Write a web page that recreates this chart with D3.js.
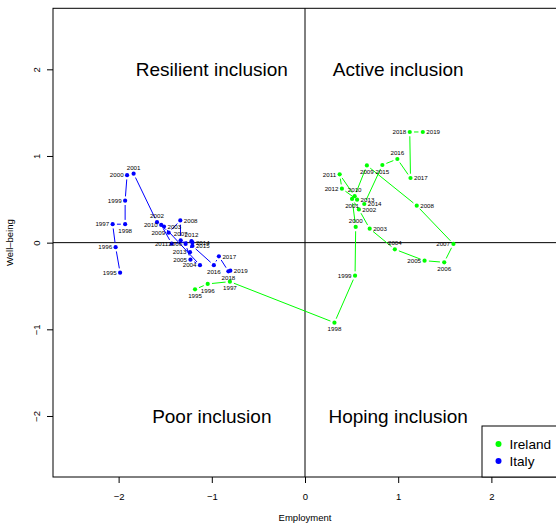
<!DOCTYPE html>
<html>
<head>
<script src="https://d3js.org/d3.v7.min.js"></script>
<style>
  body { margin: 0; padding: 0; background: #fff; }
  svg text { font-family: "Liberation Sans", Arial, Helvetica, sans-serif; }
</style>
</head>
<body>
<div id="chart"></div>
<script>
// anos (rótulos dos pontos)
var years = [1995, 1996, 1997, 1998, 1999, 2000, 2001, 2002, 2003, 2004, 2005, 2006, 2007,
             2008, 2009, 2010, 2011, 2012, 2013, 2014, 2015, 2016, 2017, 2018, 2019];

// Irlanda
var irelandEmp  = [-1.180, -1.044, -0.806, 0.316, 0.537, 0.544, 0.505, 0.578, 0.694, 0.964, 1.283, 1.494, 1.593,
                   1.199, 0.664, 0.533, 0.372, 0.396, 0.559, 0.636, 0.830, 0.991, 1.132, 1.124, 1.264];
var irelandWell = [-0.539, -0.476, -0.450, -0.923, -0.381, 0.181, 0.504, 0.383, 0.161, -0.077, -0.208, -0.227, -0.015,
                   0.427, 0.891, 0.536, 0.788, 0.623, 0.496, 0.446, 0.896, 0.965, 0.746, 1.277, 1.277];
// posição do rótulo, como o "pos" do R: 1 baixo, 2 esquerda, 3 cima, 4 direita
var irelandPos  = [1, 1, 1, 1, 2, 3, 1, 4, 4, 3, 2, 1, 2, 4, 1, 3, 2, 2, 4, 4, 1, 3, 4, 2, 4];

// Itália
var italyEmp  = [-1.984, -2.032, -2.064, -1.930, -1.930, -1.909, -1.839, -1.588, -1.513, -1.127, -1.229, -1.281, -1.334,
                 -1.338, -1.463, -1.543, -1.430, -1.218, -1.234, -1.208, -1.208, -0.978, -0.924, -0.822, -0.801];
var italyWell = [-0.346, -0.052, 0.213, 0.213, 0.484, 0.779, 0.796, 0.236, 0.185, -0.260, -0.196, -0.015, 0.027,
                 0.257, 0.115, 0.205, -0.012, 0.017, -0.110, 0.003, -0.038, -0.260, -0.158, -0.331, -0.323];
var italyPos  = [2, 2, 2, 1, 2, 2, 3, 3, 4, 2, 2, 2, 3, 4, 2, 2, 2, 3, 2, 4, 4, 1, 4, 1, 4];

var countries = ["Ireland", "Italy"];
var countryColors = ["#00ff00", "#0000ff"];

var ticks = [-2, -1, 0, 1, 2];

var quadrantNames = ["Resilient inclusion", "Active inclusion", "Poor inclusion", "Hoping inclusion"];
var quadrantX = [-1, 1, -1, 1];
var quadrantY = [2, 2, -2, -2];

var width = 556, height = 523;

var svg = d3.select("#chart").append("svg")
    .attr("width", width)
    .attr("height", height);

var x = d3.scaleLinear().domain([-2.704, 2.704]).range([53, 557]);
var y = d3.scaleLinear().domain([-2.704, 2.704]).range([477, 8.3]);

// linhas de referência
svg.append("line")
    .attr("x1", x.range()[0]).attr("x2", x.range()[1])
    .attr("y1", y(0)).attr("y2", y(0))
    .attr("stroke", "#000");
svg.append("line")
    .attr("x1", x(0)).attr("x2", x(0))
    .attr("y1", y.range()[0]).attr("y2", y.range()[1])
    .attr("stroke", "#000");

// eixos
var fmt = d3.format("d");
var xAxis = svg.append("g")
    .attr("transform", "translate(0," + y.range()[0] + ")")
    .call(d3.axisBottom(x).tickValues(ticks).tickFormat(fmt).tickSize(6).tickPadding(10));
xAxis.select(".domain").remove();
xAxis.selectAll("text").style("font-size", "9.5px").attr("fill", "#000");

var yAxis = svg.append("g")
    .attr("transform", "translate(" + x.range()[0] + ",0)")
    .call(d3.axisLeft(y).tickValues(ticks).tickFormat(fmt).tickSize(6));
yAxis.select(".domain").remove();
yAxis.selectAll("text")
    .style("font-size", "9.5px")
    .attr("fill", "#000")
    .attr("x", 0)
    .attr("y", -16)
    .attr("dy", "0.35em")
    .attr("text-anchor", "middle")
    .attr("transform", "rotate(-90)");

// moldura
svg.append("rect")
    .attr("x", x.range()[0]).attr("y", y.range()[1])
    .attr("width", x.range()[1] - x.range()[0])
    .attr("height", y.range()[0] - y.range()[1])
    .attr("fill", "none")
    .attr("stroke", "#000");

// títulos dos eixos
svg.append("text")
    .attr("x", x(0)).attr("y", 518)
    .attr("dy", "0.35em")
    .attr("text-anchor", "middle")
    .style("font-size", "9.5px")
    .text("Employment");
svg.append("text")
    .attr("transform", "translate(10," + y(0) + ") rotate(-90)")
    .attr("dy", "0.35em")
    .attr("text-anchor", "middle")
    .style("font-size", "9.5px")
    .text("Well\u2013being");

// nomes dos quadrantes
svg.selectAll(".quad")
    .data(quadrantNames)
    .enter().append("text")
    .attr("x", (d, i) => x(quadrantX[i]))
    .attr("y", (d, i) => y(quadrantY[i]))
    .attr("dy", "0.35em")
    .attr("text-anchor", "middle")
    .style("font-size", "19px")
    .text(d => d);

// séries (tipo "b" do R: linhas com intervalo em volta dos pontos)
var gap = 4.3;
function drawSeries(xs, ys, pos, color) {
    var pts = years.map((yr, i) => ({ year: yr, px: x(xs[i]), py: y(ys[i]), pos: pos[i] }));
    var g = svg.append("g");
    for (var i = 0; i < pts.length - 1; i++) {
        var a = pts[i], b = pts[i + 1];
        var dx = b.px - a.px, dy = b.py - a.py;
        var d = Math.sqrt(dx * dx + dy * dy);
        if (d <= 2 * gap) continue;
        var ux = dx / d, uy = dy / d;
        g.append("line")
            .attr("x1", a.px + ux * gap).attr("y1", a.py + uy * gap)
            .attr("x2", b.px - ux * gap).attr("y2", b.py - uy * gap)
            .attr("stroke", color)
            .attr("stroke-width", 1);
    }
    g.selectAll("circle")
        .data(pts)
        .enter().append("circle")
        .attr("cx", d => d.px)
        .attr("cy", d => d.py)
        .attr("r", 2.1)
        .attr("fill", color);
    g.selectAll("text")
        .data(pts)
        .enter().append("text")
        .attr("x", d => d.pos == 2 ? d.px - 3.5 : d.pos == 4 ? d.px + 3.5 : d.px)
        .attr("y", d => d.pos == 1 ? d.py + 6.5 : d.pos == 3 ? d.py - 6 : d.py)
        .attr("dy", "0.35em")
        .attr("text-anchor", d => d.pos == 2 ? "end" : d.pos == 4 ? "start" : "middle")
        .style("font-size", "6.2px")
        .attr("fill", "#000")
        .text(d => d.year);
}

drawSeries(italyEmp, italyWell, italyPos, countryColors[1]);
drawSeries(irelandEmp, irelandWell, irelandPos, countryColors[0]);

// legenda
var legend = svg.append("g");
legend.append("rect")
    .attr("x", 482).attr("y", 426)
    .attr("width", 90).attr("height", y.range()[0] - 426)
    .attr("fill", "#fff")
    .attr("stroke", "#000");
countries.forEach(function (c, i) {
    legend.append("circle")
        .attr("cx", 498.5).attr("cy", 444 + i * 17)
        .attr("r", 3)
        .attr("fill", countryColors[i]);
    legend.append("text")
        .attr("x", 509.5).attr("y", 444 + i * 17)
        .attr("dy", "0.35em")
        .style("font-size", "13.6px")
        .text(c);
});
</script>
</body>
</html>
